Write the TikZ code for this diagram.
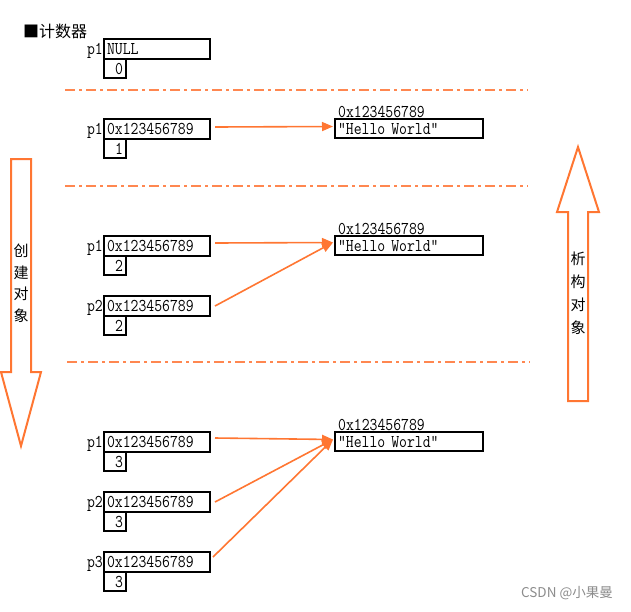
\documentclass[tikz,border=0pt]{standalone}
\usepackage{fontspec}
\setmainfont{Liberation Serif}
\newfontfamily\cjk{Noto Sans CJK SC}
\newfontfamily\codef[FakeStretch=0.85]{Latin Modern Mono}
\usetikzlibrary{arrows.meta}
\definecolor{org}{RGB}{255,118,50}
\definecolor{dashorg}{RGB}{255,135,80}
\tikzset{
  codefont/.style={font=\codef\fontsize{18}{18}\selectfont},
  mainbox/.style={draw=black, line width=2pt, outer sep=0pt, anchor=north west,
    minimum width=106pt, minimum height=20pt, inner xsep=3pt, inner ysep=0pt,
    text width=100pt, align=left, codefont},
  cntbox/.style={draw=black, line width=2pt, outer sep=0pt, anchor=north west,
    minimum width=22pt, minimum height=19pt, inner xsep=3pt, inner ysep=0pt,
    text width=16pt, align=right, codefont},
  tgtbox/.style={draw=black, line width=2pt, outer sep=0pt, anchor=north west,
    minimum width=148pt, minimum height=19pt, inner xsep=3pt, inner ysep=0pt,
    text width=142pt, align=left, codefont},
  lbl/.style={anchor=base east, inner sep=1pt, codefont},
  addr/.style={anchor=south west, inner sep=1pt, codefont},
  ptrarrow/.style={draw=org, line width=1.6pt, -{Triangle[length=11pt,width=9pt]}},
  sepline/.style={draw=dashorg, line width=1.5pt, dash pattern=on 10pt off 4pt on 3pt off 4pt},
  bigarrow/.style={draw=org, line width=2pt, fill=white, line join=miter},
  vtext/.style={font=\cjk\fontsize{15}{21.5}\selectfont, align=center, inner sep=0pt}
}
\newcommand\ptrnode[6]{%
  \node[mainbox] (#1) at (#3,#4) {#5};
  \node[cntbox] (#1c) at (#1.south west) {#6};
  \node[lbl] (#1l) at (#1.base west) {#2};
}
\newcommand\tgtnode[3]{%
  \node[tgtbox] (#1) at (#2,#3) {“Hello World”};
  \node[addr] (#1a) at ([xshift=2pt]#1.north west) {0x123456789};
}
\begin{document}
\begin{tikzpicture}[x=1pt,y=-1pt]
\useasboundingbox (0,0) rectangle (631,611);
% title
\node[anchor=west, inner sep=0pt, font=\cjk\fontsize{16}{16}\selectfont] (title) at (23,31) {■计数器};
% section 1
\ptrnode{sa}{p1}{104}{39}{NULL}{0}
\draw[sepline] (65,90) -- (528,90);
% section 2
\ptrnode{sbp}{p1}{104}{119}{0x123456789}{1}
\tgtnode{sbt}{335}{119}
\draw[ptrarrow] ([xshift=5pt,yshift=2pt]sbp.east) -- ([xshift=-2pt,yshift=2pt]sbt.west);
\draw[sepline] (65,186) -- (528,186);
% section 3
\ptrnode{scp}{p1}{104}{236}{0x123456789}{2}
\ptrnode{scq}{p2}{104}{296}{0x123456789}{2}
\tgtnode{sct}{335}{236}
\coordinate (scin) at ([xshift=-2pt,yshift=3pt]sct.west);
\draw[ptrarrow] ([xshift=5pt,yshift=3pt]scp.east) -- (scin);
\draw[ptrarrow] ([xshift=5pt]scq.east) -- (scin);
\draw[sepline] (67,362) -- (530,362);
% section 4
\ptrnode{sdp}{p1}{104}{432}{0x123456789}{3}
\ptrnode{sdq}{p2}{104}{492}{0x123456789}{3}
\ptrnode{sdr}{p3}{104}{552}{0x123456789}{3}
\tgtnode{sdt}{335}{432}
\coordinate (sdin) at ([xshift=-2pt,yshift=2pt]sdt.west);
\draw[ptrarrow] ([xshift=5pt,yshift=4pt]sdp.east) -- (sdin);
\draw[ptrarrow] ([xshift=5pt]sdq.east) -- (sdin);
\draw[ptrarrow] ([xshift=3pt,yshift=5pt]sdr.east) -- (sdin);
% big arrows
\draw[bigarrow] (11,159) -- (31,159) -- (31,372) -- (41,372) -- (21,446) -- (1,372) -- (11,372) -- cycle;
\node[vtext] (create) at (21,283) {创\\建\\对\\象};
\draw[bigarrow] (568,401) -- (588,401) -- (588,212) -- (599,212) -- (578,147) -- (557,212) -- (568,212) -- cycle;
\node[vtext, font=\cjk\fontsize{15}{23}\selectfont] (destroy) at (578,293) {析\\构\\对\\象};
% watermark
\node[font=\cjk\fontsize{13.5}{13.5}\selectfont, text=black!45, inner sep=0pt] (wm) at (567,593) {CSDN @小果曼};
\end{tikzpicture}
\end{document}
